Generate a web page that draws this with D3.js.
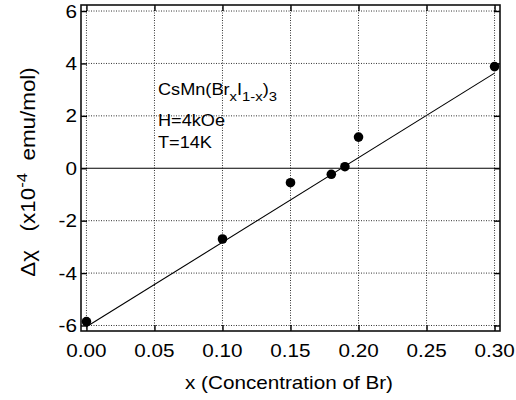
<!DOCTYPE html>
<html>
<head>
<meta charset="utf-8">
<script src="https://cdn.jsdelivr.net/npm/d3@7"></script>
<style>
  body { margin: 0; background: #fff; }
  text { white-space: pre; }
</style>
</head>
<body>
<div id="chart"></div>
<script>
// Susceptibility difference vs Br concentration, CsMn(BrxI1-x)3

const concentration = [0.00, 0.10, 0.15, 0.18, 0.19, 0.20, 0.30];
const deltaChi = [-5.85, -2.70, -0.55, -0.23, 0.06, 1.19, 3.88];
// straight fit line, end points
const fitX = [0.00, 0.30];
const fitY = [-6.05, 3.63];
const xTicks = [0.00, 0.05, 0.10, 0.15, 0.20, 0.25, 0.30];
const yTicks = [-6, -4, -2, 0, 2, 4, 6];

const [w, h] = [516, 400];
const frame = {left: 81, right: 500, top: 5, bottom: 331};
const font = "'Liberation Sans', Arial, Helvetica, sans-serif";
const stretch = 1.15; // the original lettering is wider than Arial

const xScale = d3.scaleLinear().domain([-0.004, 0.304]).range([frame.left, frame.right]);
const yScale = d3.scaleLinear().domain([-6.21, 6.23]).range([frame.bottom, frame.top]);

const svg = d3.select("#chart").append("svg")
  .attr("width", w)
  .attr("height", h)
  .style("font-family", font);

// dotted grid
svg.append("g").selectAll("line.vgrid")
  .data(xTicks)
  .enter().append("line")
  .attr("class", "vgrid")
  .attr("x1", d => xScale(d)).attr("x2", d => xScale(d))
  .attr("y1", frame.top).attr("y2", frame.bottom);

svg.append("g").selectAll("line.hgrid")
  .data(yTicks.filter(d => d !== 0))
  .enter().append("line")
  .attr("class", "hgrid")
  .attr("x1", frame.left).attr("x2", frame.right)
  .attr("y1", d => yScale(d)).attr("y2", d => yScale(d));

svg.selectAll("line.vgrid, line.hgrid")
  .attr("stroke", "#333")
  .attr("stroke-width", 1)
  .attr("stroke-dasharray", "1,1.5");

// zero line
svg.append("line")
  .attr("x1", frame.left).attr("x2", frame.right)
  .attr("y1", yScale(0)).attr("y2", yScale(0))
  .attr("stroke", "#000")
  .attr("stroke-width", 1.2);

// inward ticks on all four sides
const tick = 6;
const axes = [
  [d3.axisBottom(xScale).tickValues(xTicks), `translate(0,${frame.bottom})`],
  [d3.axisTop(xScale).tickValues(xTicks), `translate(0,${frame.top})`],
  [d3.axisLeft(yScale).tickValues(yTicks), `translate(${frame.left},0)`],
  [d3.axisRight(yScale).tickValues(yTicks), `translate(${frame.right},0)`]
];
axes.forEach(([ax, tr]) => {
  const g = svg.append("g").attr("transform", tr)
    .call(ax.tickSize(-tick).tickFormat(""));
  g.select(".domain").remove();
  g.selectAll("line").attr("stroke", "#000").attr("stroke-width", 1.4);
});

// frame
svg.append("rect")
  .attr("x", frame.left).attr("y", frame.top)
  .attr("width", frame.right - frame.left)
  .attr("height", frame.bottom - frame.top)
  .attr("fill", "none")
  .attr("stroke", "#111")
  .attr("stroke-width", 1.6);

// tick labels
svg.append("g").selectAll("text")
  .data(xTicks)
  .enter().append("text")
  .attr("transform", d => `translate(${xScale(d)},357) scale(${stretch},1)`)
  .attr("text-anchor", "middle")
  .attr("font-size", 18)
  .text(d => d3.format(".2f")(d));

svg.append("g").selectAll("text")
  .data(yTicks)
  .enter().append("text")
  .attr("transform", d => `translate(77,${yScale(d)}) scale(${stretch},1)`)
  .attr("text-anchor", "end")
  .attr("dy", "0.36em")
  .attr("font-size", 18)
  .text(d => d);

// axis titles
svg.append("text")
  .attr("transform", `translate(289,389) scale(${stretch},1)`)
  .attr("text-anchor", "middle")
  .attr("font-size", 18)
  .text("x (Concentration of Br)");

const yTitle = svg.append("text")
  .attr("transform", `translate(35,172) rotate(-90) scale(1.12,1)`)
  .attr("text-anchor", "middle")
  .attr("font-size", 20);
yTitle.append("tspan").text("Δχ   (x10");
yTitle.append("tspan").attr("dy", -8).attr("font-size", 15).text("-4");
yTitle.append("tspan").attr("dy", 8).text("  emu/mol)");

// annotation
const note = svg.append("g")
  .attr("transform", `translate(158,0) scale(1.1,1)`)
  .attr("font-size", 16.5);
const line1 = note.append("text").attr("y", 95);
line1.append("tspan").text("CsMn(Br");
line1.append("tspan").attr("dy", 6).attr("font-size", 13.5).text("x");
line1.append("tspan").attr("dy", -6).text("I");
line1.append("tspan").attr("dy", 6).attr("font-size", 13.5).text("1-x");
line1.append("tspan").attr("dy", -6).text(")");
line1.append("tspan").attr("dy", 6).attr("font-size", 13.5).text("3");
note.append("text").attr("y", 126).text("H=4kOe");
note.append("text").attr("y", 148).text("T=14K");

// fit line
const fit = fitX.map((d, i) => [d, fitY[i]]);
svg.append("path")
  .datum(fit)
  .attr("fill", "none")
  .attr("stroke", "#000")
  .attr("stroke-width", 1.1)
  .attr("d", d3.line().x(d => xScale(d[0])).y(d => yScale(d[1])));

// data points
svg.append("g").selectAll("circle")
  .data(concentration)
  .enter().append("circle")
  .attr("cx", d => xScale(d))
  .attr("cy", (d, i) => yScale(deltaChi[i]))
  .attr("r", 4.8)
  .attr("fill", "#000");
</script>
</body>
</html>
